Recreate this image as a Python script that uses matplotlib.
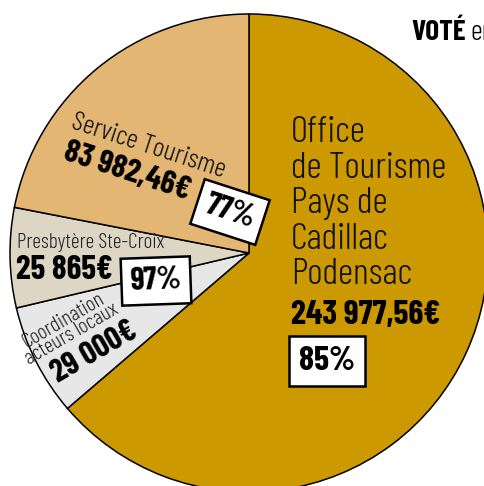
import matplotlib
matplotlib.use("Agg")
import matplotlib.pyplot as plt

# data (ordre horaire depuis le haut)
labels = ["Office\nde Tourisme\nPays de\nCadillac\nPodensac", "Coordination\nacteurs locaux",
          "Presbytère Ste-Croix", "Service Tourisme"]
montants = [243977.56, 29000, 25865, 83982.46]
taux = [85, None, 97, 77]
couleurs = ["#CC9900", "#E7E7E7", "#DDD6C5", "#E3B673"]

NARROW = ["Barlow Condensed", "Roboto Condensed", "DejaVu Sans"]


def euro(v):
    if float(v).is_integer():
        s = f"{int(v):,}".replace(",", " ")
    else:
        s = f"{v:,.2f}".replace(",", " ").replace(".", ",")
    return s + "€"


fig = plt.figure(figsize=(4.85, 4.86), dpi=100)
ax = fig.add_axes([0, 0, 1, 1])
ax.axis("off")

ax.pie(montants, colors=couleurs, startangle=90, counterclock=False,
       center=(249, 486 - 253), radius=239,
       wedgeprops=dict(edgecolor="black", linewidth=1.1))
ax.set_xlim(0, 485)
ax.set_ylim(0, 486)
ax.set_aspect("equal")


def Y(py):
    return 486 - py


box = dict(boxstyle="square,pad=0.28", fc="white", ec="black", lw=1.8)

# Office de Tourisme
ax.text(291, Y(116), labels[0], fontsize=27, family=NARROW, weight=300, va="top", ha="left",
        linespacing=1.1, color="#111111")
ax.text(291, Y(315), euro(montants[0]), fontsize=24.5, family=NARROW, weight="bold",
        va="center", ha="left")
ax.text(327, Y(361), f"{taux[0]}%", fontsize=24.5, family=NARROW, weight="bold",
        va="center", ha="center", bbox=box)

# Service Tourisme
ax.text(148, Y(146), labels[3], fontsize=20, family=NARROW, weight=300, rotation=-18,
        rotation_mode="anchor", va="center", ha="center", color="#111111")
ax.text(127, Y(171), euro(montants[3]), fontsize=23.5, family=NARROW, weight="bold",
        rotation=-18, rotation_mode="anchor", va="center", ha="center")
ax.text(230, Y(212), f"{taux[3]}%", fontsize=23, family=NARROW, weight="bold",
        rotation=-18, rotation_mode="anchor", va="center", ha="center", bbox=box)

# Presbytère
ax.text(17, Y(242), labels[2], fontsize=15.5, family=NARROW, weight=300, va="center", ha="left",
        color="#222222")
ax.text(16, Y(270), euro(montants[2]), fontsize=24, family=NARROW, weight="bold",
        va="center", ha="left")
ax.text(156, Y(281), f"{taux[2]}%", fontsize=23, family=NARROW, weight="bold",
        rotation=2, rotation_mode="anchor", va="center", ha="center", bbox=box)

# Coordination
ax.text(68, Y(327), labels[1], fontsize=15.5, family=NARROW, weight=300, rotation=30,
        rotation_mode="anchor", va="center", ha="center", linespacing=0.78,
        color="#222222")
ax.text(94, Y(352), euro(montants[1]), fontsize=23, family=NARROW, weight="bold",
        rotation=30, rotation_mode="anchor", va="center", ha="center")

# titre coupé en haut à droite
ax.text(411, Y(32), "VOTÉ", fontsize=21, family=NARROW, weight="bold",
        va="center", ha="left")
ax.text(470, Y(33), "en", fontsize=21, family=NARROW, weight=300, va="center", ha="left")

fig.savefig("out.png", dpi=100)
